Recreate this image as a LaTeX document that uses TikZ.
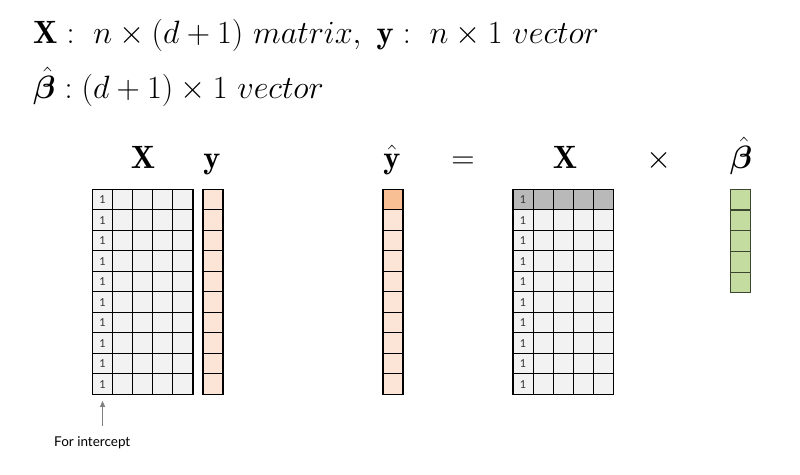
\RequirePackage{fix-cm}
\documentclass[tikz,border=0pt]{standalone}
\usepackage{amsmath,bm}
\usepackage{fontspec}
\newfontfamily\labelfont{Lato}
\usetikzlibrary{arrows.meta}
\definecolor{cellgray}{HTML}{F2F2F2}
\definecolor{headgray}{HTML}{B9B9B9}
\definecolor{peach}{HTML}{FCE4D6}
\definecolor{peachdark}{HTML}{F8BF95}
\definecolor{betagreen}{HTML}{C5DCA0}
\definecolor{betaedge}{HTML}{3C4630}
\begin{document}
\begin{tikzpicture}[x=1pt,y=-1pt,
  cell/.style={draw=black, line width=1.15pt, minimum width=20.1pt, minimum height=20.5pt,
    inner sep=0pt, fill=cellgray, font=\labelfont\fontsize{11}{11}\selectfont, text=black!80},
  ycell/.style={cell, fill=peach},
  bcell/.style={cell, fill=betagreen, draw=betaedge, minimum height=20.7pt},
  big/.style={font=\fontsize{32.3}{38}\selectfont, inner sep=0pt, anchor=base}]
\useasboundingbox (0,0) rectangle (800,474);
\fill[white] (0,0) rectangle (800,474);

% titles
\node[big, anchor=base west] (t1) at (33,43) {$\mathbf{X}:~n\times(d+1)~matrix,~\mathbf{y}:~n\times1~vector$};
\node[big, anchor=base west] (t2) at (33,98) {$\hat{\boldsymbol{\beta}}:(d+1)\times1~vector$};

% labels
\node[big] (lX) at (143,168) {$\mathbf{X}$};
\node[big] (ly) at (212,168) {$\mathbf{y}$};
\node[big] (lyh) at (392,168) {$\hat{\mathbf{y}}$};
\node[big] (leq) at (463,168) {$=$};
\node[big] (lX2) at (565,168) {$\mathbf{X}$};
\node[big] (ltimes) at (659,168) {$\times$};
\node[big] (lb) at (741,168) {$\hat{\boldsymbol{\beta}}$};

% left X matrix and y
\foreach \r in {1,...,10} {
  \foreach \c in {1,...,5} {
    \node[cell] (L-\r-\c) at ({92.5+20.1*(\c-0.5)},{189.3+20.5*(\r-0.5)}) {\ifnum\c=1 1\fi};
  }
  \node[ycell] (Y-\r) at (213,{189.3+20.5*(\r-0.5)}) {};
}

% y hat
\foreach \r in {1,...,10} {
  \node[ycell] (H-\r) at (393,{189.3+20.5*(\r-0.5)}) {};
}
\node[ycell, fill=peachdark] at (H-1) {};

% right X matrix
\foreach \r in {1,...,10} {
  \foreach \c in {1,...,5} {
    \node[cell] (R-\r-\c) at ({513+20.1*(\c-0.5)},{189.3+20.5*(\r-0.5)}) {\ifnum\c=1 1\fi};
  }
}
\foreach \c in {1,...,5} {
  \node[cell, fill=headgray] at (R-1-\c) {\ifnum\c=1 1\fi};
}

% beta
\foreach \r in {1,...,5} {
  \node[bcell] (B-\r) at (740.8,{189.3+20.7*(\r-0.5)}) {};
}

% intercept note
\coordinate (arrtail) at (L-10-1.south |- 0,426);
\draw[draw=black!50, line width=0.9pt, -{Triangle[length=6pt,width=5pt]}] (arrtail) -- ([yshift=-6pt]L-10-1.south);
\node[anchor=base west, inner sep=0pt, font=\labelfont\fontsize{13.5}{16}\selectfont] (note) at (54,446) {For intercept};
\end{tikzpicture}
\end{document}
